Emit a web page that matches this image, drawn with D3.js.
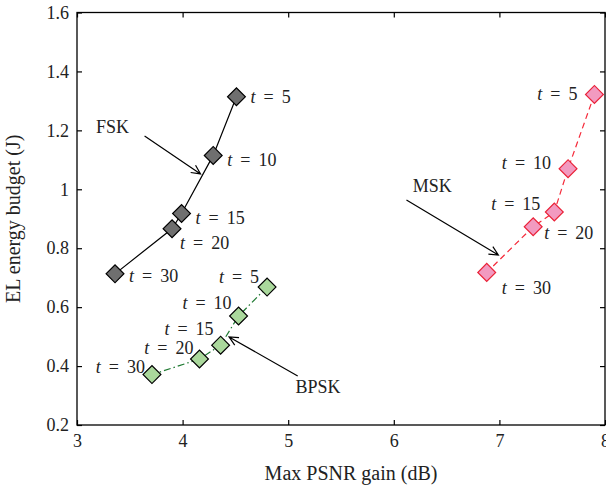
<!DOCTYPE html>
<html><head><meta charset="utf-8">
<script src="https://cdn.jsdelivr.net/npm/d3@7"></script>
<style>
body{margin:0;background:#fff;}
svg text, svg tspan{font-family:"Liberation Serif",serif;fill:#222;}
</style></head>
<body><svg id="c" width="606" height="486"></svg>
<script>
// ---- data ----
const tValues = [5, 10, 15, 20, 30];
const fskX = [4.51, 4.29, 3.99, 3.90, 3.36];
const fskY = [1.314, 1.115, 0.918, 0.866, 0.713];
const bpskX = [4.80, 4.53, 4.36, 4.16, 3.71];
const bpskY = [0.668, 0.570, 0.471, 0.424, 0.371];
const mskX = [7.90, 7.65, 7.52, 7.32, 6.88];
const mskY = [1.322, 1.070, 0.923, 0.873, 0.718];
const xTicks = [3, 4, 5, 6, 7, 8];
const yTicks = [0.2, 0.4, 0.6, 0.8, 1, 1.2, 1.4, 1.6];
const xTitle = "Max PSNR gain (dB)";
const yTitle = "EL energy budget (J)";

// ---- layout ----
const L = 77, R = 605, T = 12.5, B = 425;
const FONT = '"Liberation Serif",serif';
const svg = d3.select("#c");
const x = d3.scaleLinear().domain([3, 8]).range([L, R]);
const y = d3.scaleLinear().domain([0.2, 1.6]).range([B, T]);

const series = [
  {name: "FSK", xs: fskX, ys: fskY, line: "#000", dash: null, fill: "#6f6f6f", stroke: "#000",
   labels: [[14,0,"start"],[14,5,"start"],[14,5,"start"],[8,14,"start"],[14,2,"start"]],
   tag: {text: "FSK", x: 3.18, y: 1.19, ax0: [3.64, 1.181], ax1: [4.17, 1.052]}},
  {name: "BPSK", xs: bpskX, ys: bpskY, line: "#1f7a32", dash: "7,3,1.5,3", fill: "#aad89c", stroke: "#000",
   labels: [[-8,-10,"end"],[-7,-13,"end"],[-7,-16,"end"],[-6,-11,"end"],[-7,-8,"end"]],
   tag: {text: "BPSK", x: 5.07, y: 0.31, ax0: [5.09, 0.366], ax1: [4.44, 0.499]}},
  {name: "MSK", xs: mskX, ys: mskY, line: "#f52a3a", dash: "6,4", fill: "#f29ac0", stroke: "#ea2238",
   labels: [[-17,0,"end"],[-17,-6,"end"],[-14,-8,"end"],[11,6,"start"],[15,16,"start"]],
   tag: {text: "MSK", x: 6.18, y: 0.99, ax0: [6.12, 0.964], ax1: [6.99, 0.777]}}
];

// axes
const gx = svg.append("g").attr("transform", `translate(0,${B})`)
  .call(d3.axisBottom(x).tickValues(xTicks).tickSize(-5).tickPadding(9).tickFormat(d3.format("d")));
const gxt = svg.append("g").attr("transform", `translate(0,${T})`)
  .call(d3.axisTop(x).tickValues(xTicks).tickSize(-5).tickFormat(""));
const gy = svg.append("g").attr("transform", `translate(${L},0)`)
  .call(d3.axisLeft(y).tickValues(yTicks).tickSize(-5).tickPadding(8).tickFormat(d => d === 1 ? "1" : d3.format(".1f")(d)));
const gyr = svg.append("g").attr("transform", `translate(${R},0)`)
  .call(d3.axisRight(y).tickValues(yTicks).tickSize(-5).tickFormat(""));
[gx, gxt, gy, gyr].forEach(g => {
  g.attr("font-family", FONT).attr("font-size", 18);
  g.select(".domain").remove();
  g.selectAll("line").attr("stroke", "#000").attr("stroke-width", 1.2);
  g.selectAll("text").attr("fill", "#222");
});
svg.append("rect").attr("x", L).attr("y", T).attr("width", R - L).attr("height", B - T)
  .attr("fill", "none").attr("stroke", "#000").attr("stroke-width", 1.3);

svg.append("text").attr("x", (L + R) / 2 + 10).attr("y", 480).attr("text-anchor", "middle")
  .attr("font-size", 20).text(xTitle);
svg.append("text").attr("transform", `translate(20,${(T + B) / 2}) rotate(-90)`).attr("text-anchor", "middle")
  .attr("font-size", 20).text(yTitle);

// series
series.forEach(s => {
  const pts = s.xs.map((v, i) => [v, s.ys[i]]);
  svg.append("path").datum(pts).attr("fill", "none").attr("stroke", s.line).attr("stroke-width", 1.2)
    .attr("stroke-dasharray", s.dash).attr("d", d3.line().x(d => x(d[0])).y(d => y(d[1])));
  svg.selectAll(null).data(pts).enter().append("rect")
    .attr("x", -6.3).attr("y", -6.3).attr("width", 12.6).attr("height", 12.6)
    .attr("transform", d => `translate(${x(d[0])},${y(d[1])}) rotate(45)`)
    .attr("fill", s.fill).attr("stroke", s.stroke).attr("stroke-width", 1.2);
  pts.forEach((p, i) => {
    const [dx, dy, anchor] = s.labels[i];
    const t = svg.append("text").attr("x", x(p[0]) + dx).attr("y", y(p[1]) + dy + 6)
      .attr("text-anchor", anchor).attr("font-size", 18);
    t.append("tspan").attr("font-style", "italic").text("t");
    t.append("tspan").attr("dx", 8).text("=");
    t.append("tspan").attr("dx", 8).text(String(tValues[i]));
  });
  // annotation
  svg.append("text").attr("x", x(s.tag.x)).attr("y", y(s.tag.y)).attr("font-size", 18).text(s.tag.text);
  const x0 = x(s.tag.ax0[0]), y0 = y(s.tag.ax0[1]), x1 = x(s.tag.ax1[0]), y1 = y(s.tag.ax1[1]);
  const ang = Math.atan2(y1 - y0, x1 - x0), h = 10, w = 0.45;
  svg.append("path").attr("fill", "none").attr("stroke", "#000").attr("stroke-width", 1.2)
    .attr("d", `M${x0},${y0}L${x1},${y1}M${x1 - h * Math.cos(ang - w)},${y1 - h * Math.sin(ang - w)}L${x1},${y1}L${x1 - h * Math.cos(ang + w)},${y1 - h * Math.sin(ang + w)}`);
});
</script></body></html>
